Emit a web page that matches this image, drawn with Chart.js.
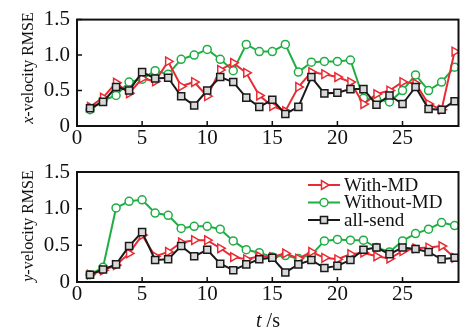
<!DOCTYPE html>
<html>
<head>
<meta charset="utf-8">
<script src="https://cdn.jsdelivr.net/npm/chart.js@4.4.0/dist/chart.umd.min.js"></script>
<style>
  body { margin: 0; background: #fff; }
  #wrap { position: relative; width: 465px; height: 329px; font-family: "Liberation Serif", "Times New Roman", serif; color: #111; }
  canvas { position: absolute; left: 0; }
  #topChart { top: 0; }
  #botChart { top: 150px; }
  .ytitle { position: absolute; font-size: 16px; white-space: nowrap; transform: translate(-50%, -50%) rotate(-90deg); }
  .xtitle { position: absolute; font-size: 20px; white-space: nowrap; transform: translate(-50%, -50%); }
</style>
</head>
<body>
<div id="wrap">
  <canvas id="topChart" width="465" height="150"></canvas>
  <canvas id="botChart" width="465" height="179"></canvas>
  <div class="ytitle" style="left:28px; top:68px;"><i>x</i>-velocity RMSE</div>
  <div class="ytitle" style="left:28px; top:226px;"><i>y</i>-velocity RMSE</div>
  <div class="xtitle" style="left:268px; top:320px;"><i>t</i> /s</div>
</div>
<script>
const times = [1, 2, 3, 4, 5, 6, 7, 8, 9, 10, 11, 12, 13, 14, 15, 16, 17, 18, 19, 20, 21, 22, 23, 24, 25, 26, 27, 28, 29];
const seriesNames = ["With-MD", "Without-MD", "all-send"];
const xTicks = [0, 5, 10, 15, 20, 25];
const yTicks = [0, 0.5, 1.0, 1.5];

// x-velocity RMSE
const xWithMD = [0.27, 0.40, 0.61, 0.46, 0.67, 0.63, 0.91, 0.56, 0.62, 0.42, 0.79, 0.89, 0.75, 0.43, 0.28, 0.21, 0.55, 0.76, 0.73, 0.69, 0.62, 0.31, 0.45, 0.50, 0.62, 0.60, 0.31, 0.23, 1.05];
const xWithoutMD = [0.23, 0.36, 0.43, 0.62, 0.66, 0.78, 0.73, 0.94, 1.00, 1.08, 0.94, 0.78, 1.15, 1.05, 1.05, 1.15, 0.76, 0.90, 0.91, 0.91, 0.93, 0.39, 0.38, 0.34, 0.50, 0.72, 0.50, 0.62, 0.83];
const xAllSend = [0.25, 0.34, 0.55, 0.50, 0.76, 0.67, 0.68, 0.42, 0.29, 0.50, 0.69, 0.62, 0.40, 0.27, 0.37, 0.17, 0.27, 0.69, 0.46, 0.47, 0.52, 0.52, 0.30, 0.43, 0.31, 0.55, 0.24, 0.23, 0.35];

// y-velocity RMSE
const yWithMD = [0.10, 0.16, 0.23, 0.39, 0.64, 0.35, 0.41, 0.54, 0.57, 0.57, 0.46, 0.34, 0.31, 0.35, 0.34, 0.39, 0.32, 0.41, 0.33, 0.31, 0.38, 0.40, 0.35, 0.32, 0.42, 0.46, 0.47, 0.49, 0.33];
const yWithoutMD = [0.10, 0.20, 1.01, 1.10, 1.12, 0.94, 0.91, 0.73, 0.76, 0.76, 0.72, 0.56, 0.44, 0.40, 0.34, 0.36, 0.32, 0.37, 0.56, 0.58, 0.57, 0.57, 0.47, 0.41, 0.56, 0.66, 0.72, 0.81, 0.77];
const yAllSend = [0.10, 0.17, 0.24, 0.49, 0.68, 0.30, 0.31, 0.49, 0.35, 0.44, 0.25, 0.16, 0.24, 0.31, 0.33, 0.13, 0.24, 0.30, 0.19, 0.22, 0.30, 0.44, 0.47, 0.38, 0.47, 0.45, 0.41, 0.31, 0.33];

const FONT = "'Liberation Serif', 'Times New Roman', serif";
const styles = [
  { color: "#ea2a33", bg: "#fff", pointStyle: "triangle", rotation: 90, radius: 5, order: 1 },
  { color: "#1fae44", bg: "#fff", pointStyle: "circle", rotation: 0, radius: 4, order: 2 },
  { color: "#1a1a1a", bg: "#d8d8d8", pointStyle: "rect", rotation: 0, radius: 5, order: 0 },
];

function makeDatasets(arrays) {
  return arrays.map((arr, i) => ({
    label: seriesNames[i],
    data: times.map((t, j) => ({ x: t, y: arr[j] })),
    borderColor: styles[i].color,
    backgroundColor: styles[i].bg,
    borderWidth: 2,
    pointStyle: styles[i].pointStyle,
    pointRotation: styles[i].rotation,
    pointRadius: styles[i].radius,
    pointBorderWidth: 1.5,
    tension: 0,
    order: styles[i].order,
  }));
}

// box round the plot area with short inward ticks
const framePlugin = {
  id: "frame",
  afterDatasetsDraw(chart) {
    const { ctx, chartArea: a, scales } = chart;
    ctx.save();
    ctx.strokeStyle = "#111";
    ctx.lineWidth = 2;
    ctx.strokeRect(a.left, a.top, a.right - a.left, a.bottom - a.top);
    ctx.lineWidth = 1.5;
    ctx.beginPath();
    yTicks.forEach((v) => {
      const y = scales.y.getPixelForValue(v);
      ctx.moveTo(a.left, y);
      ctx.lineTo(a.left + 5, y);
    });
    xTicks.forEach((v) => {
      const x = scales.x.getPixelForValue(v);
      ctx.moveTo(x, a.bottom);
      ctx.lineTo(x, a.bottom - 5);
    });
    ctx.stroke();
    ctx.restore();
  },
};

// legend drawn inside the lower plot
const insideLegend = {
  id: "insideLegend",
  afterDraw(chart) {
    const { ctx, chartArea: a } = chart;
    ctx.save();
    chart.data.datasets.forEach((ds, i) => {
      const y = a.top + 13 + i * 17.5;
      const x0 = 308, x1 = 340;
      ctx.strokeStyle = ds.borderColor;
      ctx.lineWidth = 2;
      ctx.beginPath();
      ctx.moveTo(x0, y);
      ctx.lineTo(x1, y);
      ctx.stroke();
      ctx.fillStyle = ds.backgroundColor;
      ctx.lineWidth = 1.5;
      Chart.helpers.drawPoint(ctx, {
        pointStyle: ds.pointStyle,
        rotation: ds.pointRotation,
        radius: ds.pointRadius,
        borderWidth: 1.5,
      }, (x0 + x1) / 2, y);
      ctx.fillStyle = "#111";
      ctx.font = "19px " + FONT;
      ctx.textBaseline = "middle";
      ctx.textAlign = "left";
      ctx.fillText(ds.label, x1 + 4, y + 1);
    });
    ctx.restore();
  },
};

function makeChart(id, arrays, padTop, padBottom, plugins) {
  return new Chart(document.getElementById(id), {
    type: "line",
    data: { datasets: makeDatasets(arrays) },
    options: {
      responsive: false,
      animation: false,
      layout: { padding: { top: padTop, right: 3, bottom: padBottom, left: 0 } },
      plugins: { legend: { display: false }, tooltip: { enabled: false } },
      scales: {
        x: {
          type: "linear",
          min: 0,
          max: 29.3,
          afterBuildTicks: (s) => { s.ticks = xTicks.map((v) => ({ value: v })); },
          afterFit: (s) => { s.height = 24; },
          grid: { display: false, drawTicks: false },
          border: { display: false },
          ticks: { color: "#111", font: { family: FONT, size: 21 }, padding: 0, maxRotation: 0 },
        },
        y: {
          min: 0,
          max: 1.5,
          afterBuildTicks: (s) => { s.ticks = yTicks.map((v) => ({ value: v })); },
          afterFit: (s) => { s.width = 77; },
          grid: { display: false, drawTicks: false },
          border: { display: false },
          ticks: {
            color: "#111",
            font: { family: FONT, size: 21 },
            padding: 7,
            callback: (v) => (v === 0 ? "0" : v.toFixed(1)),
          },
        },
      },
    },
    plugins: plugins,
  });
}

makeChart("topChart", [xWithMD, xWithoutMD, xAllSend], 17, 0, [framePlugin]);
makeChart("botChart", [yWithMD, yWithoutMD, yAllSend], 22, 23, [framePlugin, insideLegend]);
</script>
</body>
</html>
